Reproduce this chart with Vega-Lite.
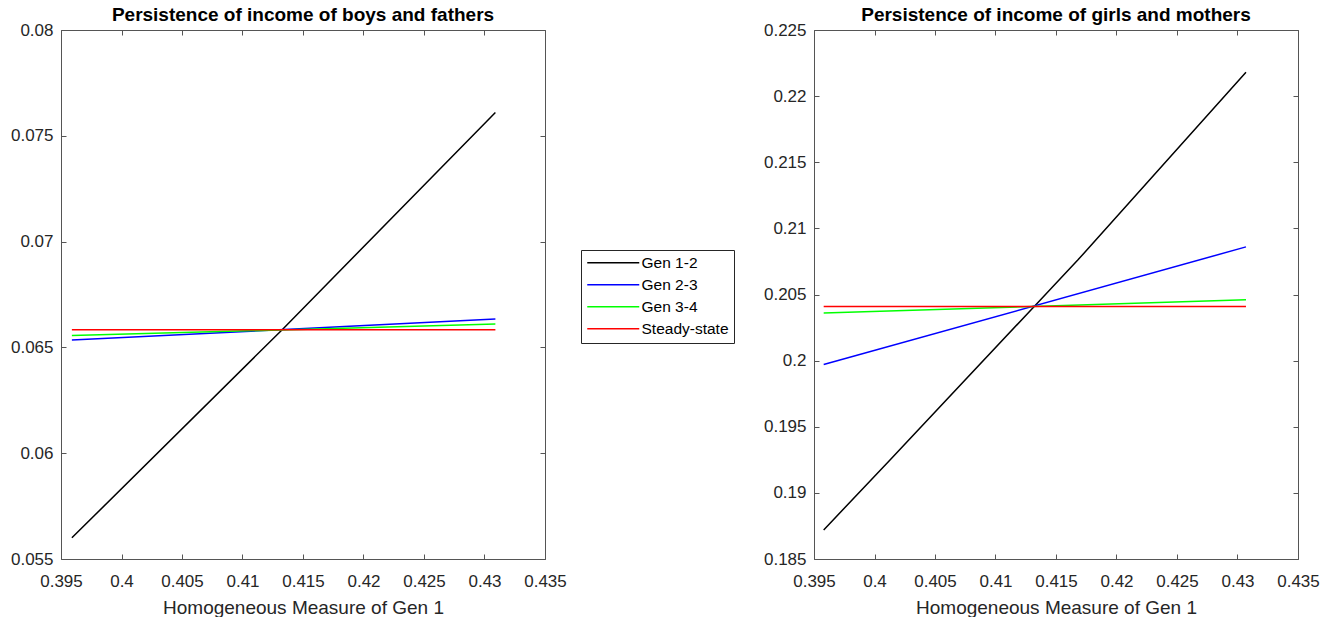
{
  "$schema": "https://vega.github.io/schema/vega-lite/v6.json",
  "autosize": {"type": "pad"},
  "padding": {"left": 10, "top": 6, "right": 0, "bottom": 0},
  "background": "white",
  "spacing": 269,
  "bounds": "flush",
  "config": {
    "view": {"stroke": null},
    "font": "Liberation Sans",
    "axis": {
      "grid": false,
      "labelFont": "Liberation Sans",
      "labelFontSize": 17,
      "labelColor": "#262626",
      "labelFlush": false,
      "labelOverlap": false,
      "titleFont": "Liberation Sans",
      "titleFontSize": 19,
      "titleFontWeight": "normal",
      "titleColor": "#262626",
      "domainColor": "#555555",
      "tickColor": "#555555",
      "tickSize": -5,
      "domainWidth": 1,
      "tickWidth": 1
    },
    "title": {"font": "Liberation Sans", "fontSize": 19, "fontWeight": "bold", "color": "black", "offset": -4}
  },
  "resolve": {"scale": {"color": "independent"}, "legend": {"color": "independent"}},
  "hconcat": [
    {
      "title": "Persistence of income of boys and fathers",
      "width": 484,
      "height": 529,
      "data": {"values": [
        {"series": "Gen 1-2", "x": 0.3959, "y": 0.0560},
        {"series": "Gen 1-2", "x": 0.4133, "y": 0.06585},
        {"series": "Gen 1-2", "x": 0.4309, "y": 0.0761},
        {"series": "Gen 2-3", "x": 0.3959, "y": 0.06535},
        {"series": "Gen 2-3", "x": 0.4309, "y": 0.06634},
        {"series": "Gen 3-4", "x": 0.3959, "y": 0.06556},
        {"series": "Gen 3-4", "x": 0.4309, "y": 0.06610},
        {"series": "Steady-state", "x": 0.3959, "y": 0.06583},
        {"series": "Steady-state", "x": 0.4309, "y": 0.06583}
      ]},
      "layer": [
        {
          "mark": {"type": "line", "strokeWidth": 1.5},
          "encoding": {
            "x": {"field": "x", "type": "quantitative", "scale": {"domain": [0.395, 0.435], "nice": false, "zero": false},
              "axis": {"orient": "bottom", "values": [0.395, 0.4, 0.405, 0.41, 0.415, 0.42, 0.425, 0.43, 0.435], "format": "~g", "title": "Homogeneous Measure of Gen 1", "labelPadding": 19, "titlePadding": 9}},
            "y": {"field": "y", "type": "quantitative", "scale": {"domain": [0.055, 0.08], "nice": false, "zero": false},
              "axis": {"orient": "left", "values": [0.055, 0.06, 0.065, 0.07, 0.075, 0.08], "format": "~g", "title": null, "labelPadding": 13}},
            "color": {"field": "series", "type": "nominal",
              "scale": {"domain": ["Gen 1-2", "Gen 2-3", "Gen 3-4", "Steady-state"], "range": ["#000000", "#0000ff", "#00ff00", "#ff0000"]},
              "legend": {"orient": "none", "legendX": 520, "legendY": 220, "title": null, "strokeColor": "#262626", "fillColor": "white", "padding": 5, "symbolType": "M-1,0H7", "symbolSize": 169, "symbolStrokeWidth": 1.5, "labelFontSize": 15.5, "labelFont": "Liberation Sans", "labelColor": "black", "labelOffset": 40, "rowPadding": 5, "cornerRadius": 0}}
          }
        },
        {
          "mark": {"type": "line", "opacity": 0},
          "encoding": {
            "x": {"field": "x", "type": "quantitative", "scale": {"domain": [0.395, 0.435], "nice": false, "zero": false},
              "axis": {"orient": "top", "values": [0.395, 0.4, 0.405, 0.41, 0.415, 0.42, 0.425, 0.43, 0.435], "labels": false, "title": null}},
            "y": {"field": "y", "type": "quantitative", "scale": {"domain": [0.055, 0.08], "nice": false, "zero": false},
              "axis": {"orient": "right", "values": [0.055, 0.06, 0.065, 0.07, 0.075, 0.08], "labels": false, "title": null}}
          }
        }
      ],
      "resolve": {"axis": {"x": "independent", "y": "independent"}}
    },
    {
      "title": "Persistence of income of girls and mothers",
      "width": 484,
      "height": 529,
      "data": {"values": [
        {"series": "Gen 1-2", "x": 0.3958, "y": 0.1872},
        {"series": "Gen 1-2", "x": 0.4013, "y": 0.1925},
        {"series": "Gen 1-2", "x": 0.4132, "y": 0.2041},
        {"series": "Gen 1-2", "x": 0.4168, "y": 0.2076},
        {"series": "Gen 1-2", "x": 0.4307, "y": 0.2218},
        {"series": "Gen 2-3", "x": 0.3958, "y": 0.1997},
        {"series": "Gen 2-3", "x": 0.4307, "y": 0.2086},
        {"series": "Gen 3-4", "x": 0.3958, "y": 0.2036},
        {"series": "Gen 3-4", "x": 0.4307, "y": 0.2046},
        {"series": "Steady-state", "x": 0.3958, "y": 0.2041},
        {"series": "Steady-state", "x": 0.4307, "y": 0.2041}
      ]},
      "layer": [
        {
          "mark": {"type": "line", "strokeWidth": 1.5},
          "encoding": {
            "x": {"field": "x", "type": "quantitative", "scale": {"domain": [0.395, 0.435], "nice": false, "zero": false},
              "axis": {"orient": "bottom", "values": [0.395, 0.4, 0.405, 0.41, 0.415, 0.42, 0.425, 0.43, 0.435], "format": "~g", "title": "Homogeneous Measure of Gen 1", "labelPadding": 19, "titlePadding": 9}},
            "y": {"field": "y", "type": "quantitative", "scale": {"domain": [0.185, 0.225], "nice": false, "zero": false},
              "axis": {"orient": "left", "values": [0.185, 0.19, 0.195, 0.2, 0.205, 0.21, 0.215, 0.22, 0.225], "format": "~g", "title": null, "labelPadding": 13}},
            "color": {"field": "series", "type": "nominal",
              "scale": {"domain": ["Gen 1-2", "Gen 2-3", "Gen 3-4", "Steady-state"], "range": ["#000000", "#0000ff", "#00ff00", "#ff0000"]},
              "legend": null}
          }
        },
        {
          "mark": {"type": "line", "opacity": 0},
          "encoding": {
            "x": {"field": "x", "type": "quantitative", "scale": {"domain": [0.395, 0.435], "nice": false, "zero": false},
              "axis": {"orient": "top", "values": [0.395, 0.4, 0.405, 0.41, 0.415, 0.42, 0.425, 0.43, 0.435], "labels": false, "title": null}},
            "y": {"field": "y", "type": "quantitative", "scale": {"domain": [0.185, 0.225], "nice": false, "zero": false},
              "axis": {"orient": "right", "values": [0.185, 0.19, 0.195, 0.2, 0.205, 0.21, 0.215, 0.22, 0.225], "labels": false, "title": null}}
          }
        }
      ],
      "resolve": {"axis": {"x": "independent", "y": "independent"}}
    }
  ]
}
